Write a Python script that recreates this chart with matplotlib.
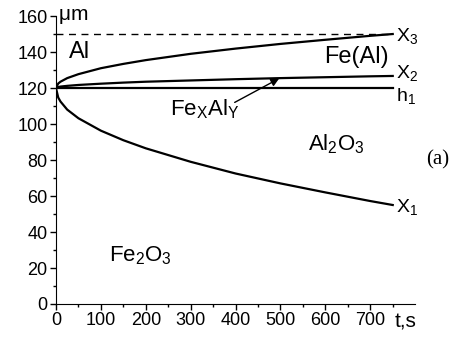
import matplotlib
matplotlib.use("Agg")
import matplotlib.pyplot as plt

plt.rcParams['font.family'] = ['Liberation Sans', 'DejaVu Sans']
plt.rcParams['mathtext.fontset'] = 'custom'
plt.rcParams['mathtext.rm'] = 'Liberation Sans'
plt.rcParams['mathtext.it'] = 'Liberation Sans:italic'

# values
t = [0, 5, 10, 25, 50, 100, 150, 200, 300, 400, 500, 600, 700, 750]
x3 = [120, 122.5, 123.5, 125.5, 127.7, 131, 133.4, 135.5, 139, 141.9, 144.5, 146.8, 149, 150]
x2 = [120, 120.5, 120.8, 121.2, 121.7, 122.4, 123, 123.5, 124.2, 124.9, 125.5, 126, 126.5, 126.7]
x1 = [120, 114.7, 112.5, 108, 103.2, 96.3, 91, 86.5, 79, 72.5, 67, 62, 57.2, 55]
h1 = [120] * len(t)
dash_level = 150

fig = plt.figure(figsize=(4.57, 3.38), dpi=100)
ax = fig.add_axes([0.1225, 0.1006, 0.786, 0.852])

ax.plot(t, x3, color='black', lw=1.6)
ax.plot(t, x2, color='black', lw=1.6)
ax.plot(t, h1, color='black', lw=1.6)
ax.plot(t, x1, color='black', lw=1.6)
ax.plot([0, t[-1]], [dash_level, dash_level], color='black', lw=1.0, ls=(0, (5, 4)))

ax.set_xlim(0, 800)
ax.set_ylim(0, 160)
ax.set_xticks([0, 100, 200, 300, 400, 500, 600, 700])
ax.set_xticks(range(50, 800, 100), minor=True)
ax.set_yticks(range(0, 161, 20))
ax.set_yticks(range(10, 160, 20), minor=True)
for s in ['top', 'right']:
    ax.spines[s].set_visible(False)
ax.tick_params(which='major', direction='out', length=4, width=1, labelsize=13, pad=2)
ax.tick_params(which='minor', direction='out', length=2.5, width=1)

# end labels
fs = 14
ax.text(757, 149, r'$\mathregular{X_3}$', fontsize=fs, va='center', ha='left')
ax.text(757, 128.5, r'$\mathregular{X_2}$', fontsize=fs, va='center', ha='left')
ax.text(757, 115.5, r'$\mathregular{h_1}$', fontsize=fs, va='center', ha='left')
ax.text(757, 54, r'$\mathregular{X_1}$', fontsize=fs, va='center', ha='left')

# region labels
ax.text(30, 140, 'Al', fontsize=17, va='center', ha='left')
ax.text(670, 137.5, 'Fe(Al)', fontsize=17, va='center', ha='center')
ax.text(330, 108, r'$\mathregular{Fe_XAl_Y}$', fontsize=16, va='center', ha='center')
ax.text(625, 89, r'$\mathregular{Al_2O_3}$', fontsize=16, va='center', ha='center')
ax.text(187, 27, r'$\mathregular{Fe_2O_3}$', fontsize=16, va='center', ha='center')
ax.annotate('', xy=(497, 125.3), xytext=(398, 112),
            arrowprops=dict(arrowstyle='-|>', color='black', lw=1.0,
                            mutation_scale=12, shrinkA=0, shrinkB=0))

ax.text(5, 160, r'$\mathregular{\mu m}$', fontsize=15, va='center', ha='left')
ax.annotate('t,s', xy=(778, 0), xycoords='data', xytext=(0, -6),
            textcoords='offset points', ha='center', va='top', fontsize=15,
            annotation_clip=False)
fig.text(0.958, 0.527, '(a)', fontsize=15, family='Liberation Serif',
         ha='center', va='center')

fig.savefig('out.png', dpi=100)
